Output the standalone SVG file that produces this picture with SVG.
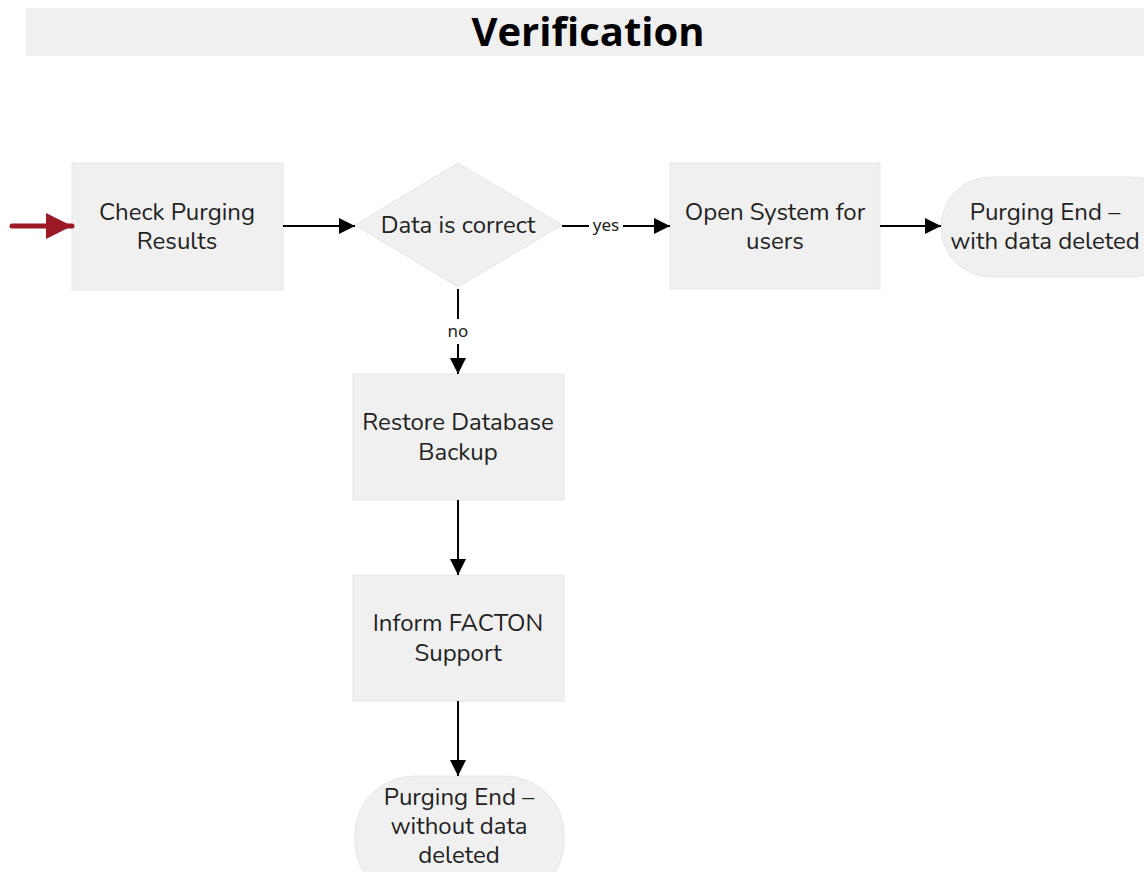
<svg xmlns="http://www.w3.org/2000/svg" width="1144" height="872" viewBox="0 0 1144 872">
<defs>
<marker id="ah" viewBox="0 0 10 10" refX="10" refY="5" markerWidth="17" markerHeight="16" markerUnits="userSpaceOnUse" orient="auto">
<path d="M0,0 L10,5 L0,10 z" fill="#000"/>
</marker>
<marker id="ahr" viewBox="0 0 10 10" refX="10" refY="5" markerWidth="28" markerHeight="26" markerUnits="userSpaceOnUse" orient="auto">
<path d="M0,0 L10,5 L0,10 z" fill="#9b1a26"/>
</marker>
<style>
.n{fill:#f0f0f0;stroke:#e6e6e6;stroke-width:1}
.t{font-family:"Nunito","Noto Sans","Open Sans",sans-serif;font-size:24px;fill:#222;text-anchor:middle}
.l{font-family:"Noto Sans","Open Sans",sans-serif;font-size:17px;fill:#222;text-anchor:middle}
.c{stroke:#000;stroke-width:2;fill:none}
</style>
</defs>
<rect x="26" y="8" width="1118" height="48" fill="#f0f0f0"/>
<text x="588" y="46" font-family="Open Sans, sans-serif" font-weight="bold" font-size="40" text-anchor="middle" fill="#000">Verification</text>

<g id="check">
<rect class="n" x="72" y="163" width="211" height="127"/>
<text class="t" x="177" y="220">Check Purging</text>
<text class="t" x="177" y="249">Results</text>
</g>
<g id="decision">
<polygon class="n" points="458,163 562,225 458,287 355,225"/>
<text class="t" x="458" y="233">Data is correct</text>
</g>
<g id="open">
<rect class="n" x="670" y="163" width="210" height="126"/>
<text class="t" x="775" y="220">Open System for</text>
<text class="t" x="775" y="249">users</text>
</g>
<g id="end-deleted">
<rect class="n" x="941" y="177" width="240" height="100" rx="50" ry="50"/>
<text class="t" x="1045" y="220">Purging End –</text>
<text class="t" x="1045" y="249">with data deleted</text>
</g>
<g id="restore">
<rect class="n" x="353" y="374" width="211" height="126"/>
<text class="t" x="458" y="430">Restore Database</text>
<text class="t" x="458" y="460">Backup</text>
</g>
<g id="inform">
<rect class="n" x="353" y="575" width="211" height="126"/>
<text class="t" x="458" y="631">Inform FACTON</text>
<text class="t" x="458" y="661">Support</text>
</g>
<g id="end-kept">
<rect class="n" x="355" y="776" width="209" height="124" rx="60" ry="58"/>
<text class="t" x="459" y="805">Purging End –</text>
<text class="t" x="459" y="834">without data</text>
<text class="t" x="459" y="863">deleted</text>
</g>

<g id="connectors">
<line x1="12" y1="226" x2="72" y2="226" stroke="#9b1a26" stroke-width="5" stroke-linecap="round" marker-end="url(#ahr)"/>
<line class="c" x1="283" y1="226" x2="355" y2="226" marker-end="url(#ah)"/>
<line class="c" x1="562" y1="226" x2="589" y2="226"/>
<line class="c" x1="623" y1="226" x2="670" y2="226" marker-end="url(#ah)"/>
<text class="l" x="606" y="231">yes</text>
<line class="c" x1="458" y1="289" x2="458" y2="319"/>
<line class="c" x1="458" y1="344" x2="458" y2="374" marker-end="url(#ah)"/>
<text class="l" x="458" y="337">no</text>
<line class="c" x1="880" y1="226" x2="941" y2="226" marker-end="url(#ah)"/>
<line class="c" x1="458" y1="500" x2="458" y2="575" marker-end="url(#ah)"/>
<line class="c" x1="458" y1="701" x2="458" y2="776" marker-end="url(#ah)"/>
</g>
</svg>
